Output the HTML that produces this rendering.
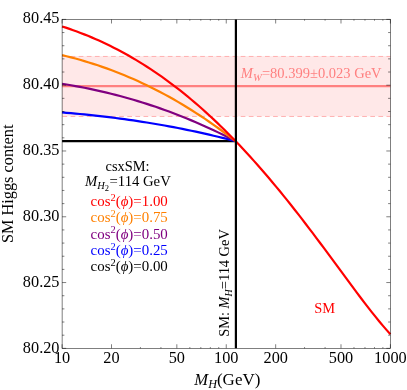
<!DOCTYPE html>
<html><head><meta charset="utf-8"><style>
html,body{margin:0;padding:0;background:#fff;}
svg{display:block;font-family:"Liberation Serif",serif;will-change:transform;}
.c path{fill:none;stroke-width:2.2;}
.t{font-size:16.3px;fill:#000;}
.l{font-size:14.4px;}
i{font-style:italic}
</style></head><body>
<svg width="407" height="390" viewBox="0 0 407 390">
<rect width="407" height="390" fill="#fff"/>
<rect x="62.1" y="56.10" width="328.29999999999995" height="60.20" fill="#ffe8e8"/>
<path d="M62.1,56.45 H390.4 M62.1,116.45 H390.4" stroke="#ffb0b0" stroke-width="1" stroke-dasharray="4.7,3.4" stroke-dashoffset="-0.4" fill="none"/>
<path d="M62.1,86.10 H390.4" stroke="#ff8080" stroke-width="2.2" fill="none"/>
<g class="c">
<path d="M62.1,141.13 H235.90" stroke="#000"/>
<path d="M62.10,112.45 L66.56,112.82 L71.01,113.20 L75.47,113.60 L79.93,114.02 L84.38,114.45 L88.84,114.91 L93.29,115.37 L97.75,115.86 L102.21,116.37 L106.66,116.89 L111.12,117.44 L115.58,118.00 L120.03,118.58 L124.49,119.18 L128.95,119.81 L133.40,120.45 L137.86,121.11 L142.32,121.80 L146.77,122.50 L151.23,123.23 L155.68,123.98 L160.14,124.75 L164.60,125.54 L169.05,126.35 L173.51,127.19 L177.97,128.04 L182.42,128.92 L186.88,129.82 L191.34,130.75 L195.79,131.69 L200.25,132.66 L204.71,133.65 L209.16,134.66 L213.62,135.70 L218.07,136.76 L222.53,137.84 L226.99,138.94 L231.44,140.06 L235.90,141.21" stroke="#0000ff"/>
<path d="M62.10,83.78 L66.56,84.51 L71.01,85.28 L75.47,86.08 L79.93,86.91 L84.38,87.78 L88.84,88.68 L93.29,89.62 L97.75,90.59 L102.21,91.60 L106.66,92.65 L111.12,93.74 L115.58,94.87 L120.03,96.03 L124.49,97.24 L128.95,98.48 L133.40,99.77 L137.86,101.09 L142.32,102.46 L146.77,103.87 L151.23,105.33 L155.68,106.82 L160.14,108.36 L164.60,109.94 L169.05,111.57 L173.51,113.24 L177.97,114.95 L182.42,116.71 L186.88,118.51 L191.34,120.36 L195.79,122.25 L200.25,124.19 L204.71,126.17 L209.16,128.20 L213.62,130.27 L218.07,132.38 L222.53,134.54 L226.99,136.75 L231.44,139.00 L235.90,141.29" stroke="#800080"/>
<path d="M62.10,55.10 L66.56,56.20 L71.01,57.35 L75.47,58.55 L79.93,59.80 L84.38,61.10 L88.84,62.46 L93.29,63.86 L97.75,65.32 L102.21,66.84 L106.66,68.41 L111.12,70.05 L115.58,71.73 L120.03,73.48 L124.49,75.29 L128.95,77.16 L133.40,79.09 L137.86,81.08 L142.32,83.13 L146.77,85.25 L151.23,87.43 L155.68,89.67 L160.14,91.98 L164.60,94.35 L169.05,96.79 L173.51,99.30 L177.97,101.87 L182.42,104.50 L186.88,107.21 L191.34,109.98 L195.79,112.81 L200.25,115.72 L204.71,118.69 L209.16,121.73 L213.62,124.84 L218.07,128.01 L222.53,131.25 L226.99,134.56 L231.44,137.93 L235.90,141.37" stroke="#ff8000"/>
<path d="M62.10,26.43 L65.79,27.64 L69.48,28.89 L73.17,30.19 L76.86,31.54 L80.54,32.93 L84.23,34.37 L87.92,35.85 L91.61,37.39 L95.30,38.97 L98.99,40.61 L102.68,42.30 L106.37,44.03 L110.05,45.82 L113.74,47.67 L117.43,49.56 L121.12,51.51 L124.81,53.52 L128.50,55.58 L132.19,57.70 L135.88,59.87 L139.56,62.10 L143.25,64.38 L146.94,66.73 L150.63,69.13 L154.32,71.59 L158.01,74.11 L161.70,76.69 L165.39,79.33 L169.07,82.03 L172.76,84.78 L176.45,87.60 L180.14,90.48 L183.83,93.42 L187.52,96.42 L191.21,99.48 L194.90,102.61 L198.58,105.79 L202.27,109.04 L205.96,112.35 L209.65,115.71 L213.34,119.14 L217.03,122.64 L220.72,126.19 L224.41,129.80 L228.09,133.48 L231.78,137.21 L235.47,141.01 L239.16,144.86 L242.85,148.78 L246.54,152.75 L250.23,156.78 L253.92,160.87 L257.60,165.02 L261.29,169.23 L264.98,173.49 L268.67,177.80 L272.36,182.17 L276.05,186.60 L279.74,191.07 L283.43,195.60 L287.11,200.18 L290.80,204.80 L294.49,209.47 L298.18,214.18 L301.87,218.94 L305.56,223.73 L309.25,228.56 L312.94,233.43 L316.62,238.33 L320.31,243.26 L324.00,248.21 L327.69,253.18 L331.38,258.17 L335.07,263.17 L338.76,268.17 L342.45,273.18 L346.13,278.18 L349.82,283.17 L353.51,288.13 L357.20,293.07 L360.89,297.97 L364.58,302.81 L368.27,307.60 L371.96,312.31 L375.64,316.93 L379.33,321.45 L383.02,325.85 L386.71,330.11 L390.40,334.21" stroke="#ff0000"/>
<path d="M235.90,19.4 V348.35" stroke="#000"/>
</g>
<path d="M62.10,348.35 L66.20,348.35 M390.40,348.35 L386.30,348.35 M62.10,335.19 L64.40,335.19 M390.40,335.19 L388.10,335.19 M62.10,322.03 L64.40,322.03 M390.40,322.03 L388.10,322.03 M62.10,308.88 L64.40,308.88 M390.40,308.88 L388.10,308.88 M62.10,295.72 L64.40,295.72 M390.40,295.72 L388.10,295.72 M62.10,282.56 L66.20,282.56 M390.40,282.56 L386.30,282.56 M62.10,269.40 L64.40,269.40 M390.40,269.40 L388.10,269.40 M62.10,256.24 L64.40,256.24 M390.40,256.24 L388.10,256.24 M62.10,243.09 L64.40,243.09 M390.40,243.09 L388.10,243.09 M62.10,229.93 L64.40,229.93 M390.40,229.93 L388.10,229.93 M62.10,216.77 L66.20,216.77 M390.40,216.77 L386.30,216.77 M62.10,203.61 L64.40,203.61 M390.40,203.61 L388.10,203.61 M62.10,190.45 L64.40,190.45 M390.40,190.45 L388.10,190.45 M62.10,177.30 L64.40,177.30 M390.40,177.30 L388.10,177.30 M62.10,164.14 L64.40,164.14 M390.40,164.14 L388.10,164.14 M62.10,150.98 L66.20,150.98 M390.40,150.98 L386.30,150.98 M62.10,137.82 L64.40,137.82 M390.40,137.82 L388.10,137.82 M62.10,124.66 L64.40,124.66 M390.40,124.66 L388.10,124.66 M62.10,111.51 L64.40,111.51 M390.40,111.51 L388.10,111.51 M62.10,98.35 L64.40,98.35 M390.40,98.35 L388.10,98.35 M62.10,85.19 L66.20,85.19 M390.40,85.19 L386.30,85.19 M62.10,72.03 L64.40,72.03 M390.40,72.03 L388.10,72.03 M62.10,58.87 L64.40,58.87 M390.40,58.87 L388.10,58.87 M62.10,45.72 L64.40,45.72 M390.40,45.72 L388.10,45.72 M62.10,32.56 L64.40,32.56 M390.40,32.56 L388.10,32.56 M62.10,19.40 L66.20,19.40 M390.40,19.40 L386.30,19.40 M62.10,348.35 L62.10,344.25 M62.10,19.40 L62.10,23.50 M111.51,348.35 L111.51,344.25 M111.51,19.40 L111.51,23.50 M176.84,348.35 L176.84,344.25 M176.84,19.40 L176.84,23.50 M226.25,348.35 L226.25,344.25 M226.25,19.40 L226.25,23.50 M275.66,348.35 L275.66,344.25 M275.66,19.40 L275.66,23.50 M340.99,348.35 L340.99,344.25 M340.99,19.40 L340.99,23.50 M390.40,348.35 L390.40,344.25 M390.40,19.40 L390.40,23.50 M140.42,348.35 L140.42,347.05 M140.42,19.40 L140.42,20.70 M160.93,348.35 L160.93,347.05 M160.93,19.40 L160.93,20.70 M189.83,348.35 L189.83,347.05 M189.83,19.40 L189.83,20.70 M200.82,348.35 L200.82,347.05 M200.82,19.40 L200.82,20.70 M210.34,348.35 L210.34,347.05 M210.34,19.40 L210.34,20.70 M218.74,348.35 L218.74,347.05 M218.74,19.40 L218.74,20.70 M304.57,348.35 L304.57,347.05 M304.57,19.40 L304.57,20.70 M325.08,348.35 L325.08,347.05 M325.08,19.40 L325.08,20.70 M353.98,348.35 L353.98,347.05 M353.98,19.40 L353.98,20.70 M364.97,348.35 L364.97,347.05 M364.97,19.40 L364.97,20.70 M374.49,348.35 L374.49,347.05 M374.49,19.40 L374.49,20.70 M382.89,348.35 L382.89,347.05 M382.89,19.40 L382.89,20.70" stroke="#000" stroke-width="0.5" fill="none"/>
<rect x="62.1" y="19.4" width="328.29999999999995" height="328.95000000000005" fill="none" stroke="#000" stroke-width="0.5"/>
<g class="t"><text x="59.5" y="353.0" text-anchor="end">80.20</text><text x="59.5" y="287.0" text-anchor="end">80.25</text><text x="59.5" y="221.1" text-anchor="end">80.30</text><text x="59.5" y="155.1" text-anchor="end">80.35</text><text x="59.5" y="89.2" text-anchor="end">80.40</text><text x="59.5" y="23.2" text-anchor="end">80.45</text><text x="62.1" y="363.2" text-anchor="middle">10</text><text x="111.5" y="363.2" text-anchor="middle">20</text><text x="176.8" y="363.2" text-anchor="middle">50</text><text x="226.2" y="363.2" text-anchor="middle">100</text><text x="275.7" y="363.2" text-anchor="middle">200</text><text x="341.0" y="363.2" text-anchor="middle">500</text><text x="390.4" y="363.2" text-anchor="middle">1000</text>
<text x="194.3" y="384.9" font-size="17"><tspan font-style="italic" font-size="16.6">M</tspan><tspan font-style="italic" font-size="12.2" dy="3">H</tspan><tspan dy="-3" dx="0">(GeV)</tspan></text>
<text transform="translate(12.6,183.8) rotate(-90)" text-anchor="middle" font-size="16.3">SM Higgs content</text>
</g>
<g class="l">
<text x="127.5" y="171" text-anchor="middle">csxSM:</text>
<text x="127.9" y="186.3" text-anchor="middle" font-size="14.7"><tspan font-style="italic">M</tspan><tspan font-style="italic" font-size="10.4" dy="2.5">H</tspan><tspan font-size="8.5" dy="2.4">2</tspan><tspan dy="-4.9" dx="0.5">=114 GeV</tspan></text>
<text x="129.2" y="205.9" text-anchor="middle" font-size="14.9" fill="#ff0000">cos<tspan font-size="10.4" dy="-5.2">2</tspan><tspan dy="5.2">(</tspan><tspan font-style="italic">ϕ</tspan>)=1.00</text>
<text x="129.2" y="222.2" text-anchor="middle" font-size="14.9" fill="#ff8000">cos<tspan font-size="10.4" dy="-5.2">2</tspan><tspan dy="5.2">(</tspan><tspan font-style="italic">ϕ</tspan>)=0.75</text>
<text x="129.2" y="238.5" text-anchor="middle" font-size="14.9" fill="#800080">cos<tspan font-size="10.4" dy="-5.2">2</tspan><tspan dy="5.2">(</tspan><tspan font-style="italic">ϕ</tspan>)=0.50</text>
<text x="129.2" y="254.8" text-anchor="middle" font-size="14.9" fill="#0000ff">cos<tspan font-size="10.4" dy="-5.2">2</tspan><tspan dy="5.2">(</tspan><tspan font-style="italic">ϕ</tspan>)=0.25</text>
<text x="129.2" y="270.9" text-anchor="middle" font-size="14.9" fill="#000">cos<tspan font-size="10.4" dy="-5.2">2</tspan><tspan dy="5.2">(</tspan><tspan font-style="italic">ϕ</tspan>)=0.00</text>
<text x="240.8" y="78.3" fill="#ff8080" font-size="14.5"><tspan font-style="italic">M</tspan><tspan font-style="italic" font-size="10.6" dy="2.8">W</tspan><tspan dy="-2.8" dx="0.2">=80.399±0.023 GeV</tspan></text>
<text transform="translate(229,283) rotate(-90)" text-anchor="middle">SM: <tspan font-style="italic">M</tspan><tspan font-style="italic" font-size="10" dy="2.5">H</tspan><tspan dy="-2.5">=114 GeV</tspan></text>
<text x="324.7" y="313" text-anchor="middle" fill="#ff0000">SM</text>
</g>
</svg>
</body></html>
